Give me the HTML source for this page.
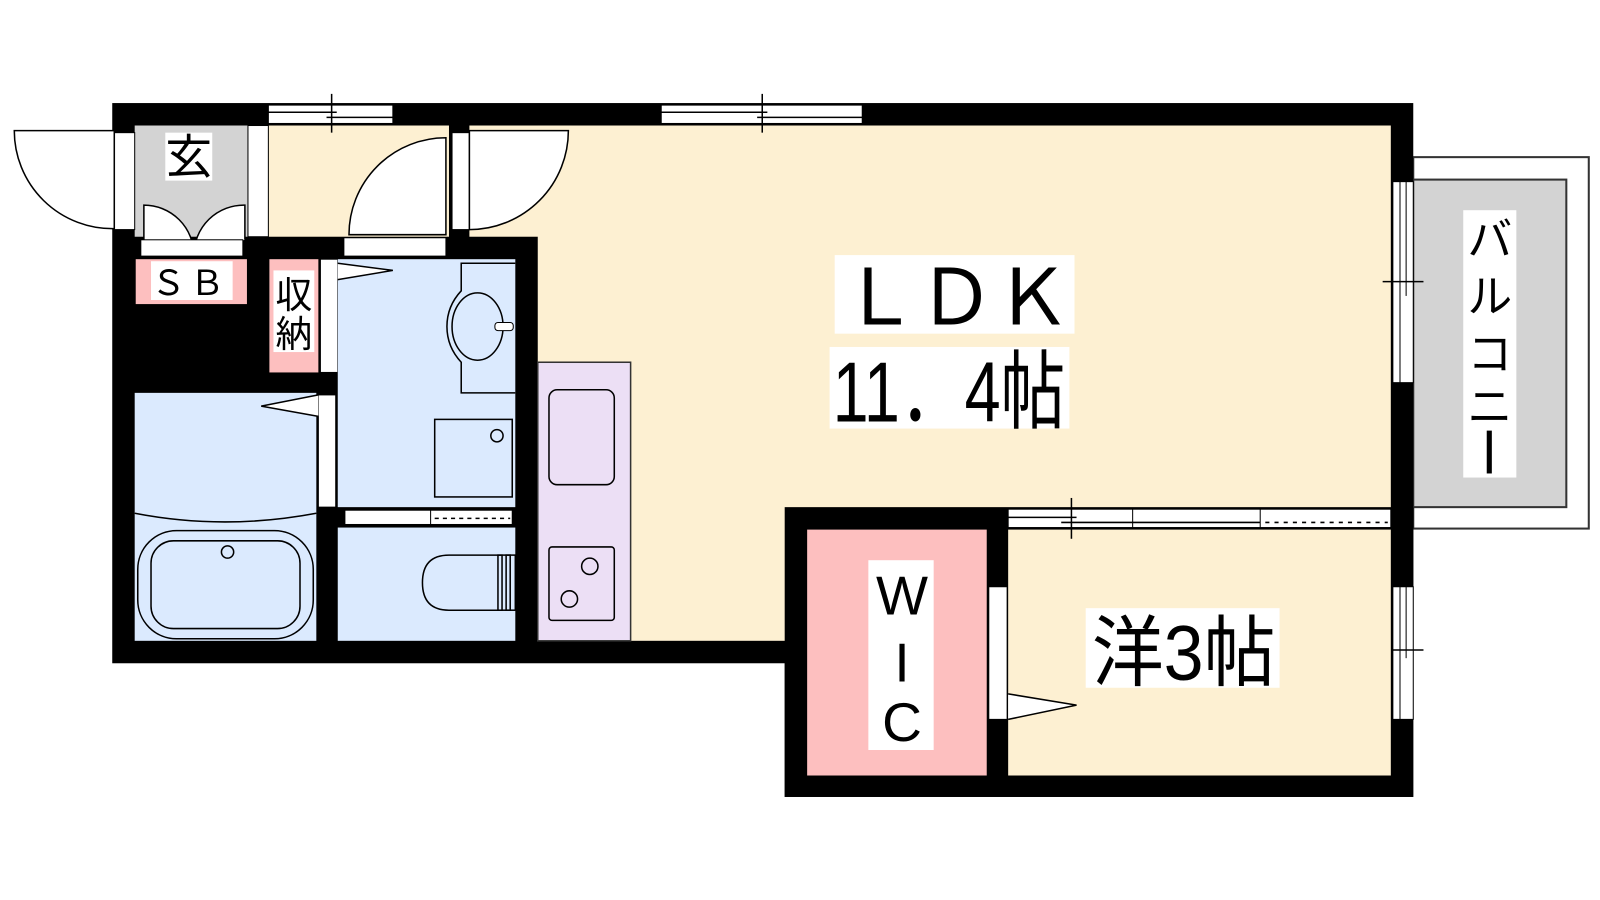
<!DOCTYPE html>
<html><head><meta charset="utf-8"><style>
html,body{margin:0;padding:0;background:#fff;width:1600px;height:900px;overflow:hidden}
svg{display:block}
text{font-family:"Liberation Sans","Noto Sans CJK JP",sans-serif;fill:#000}
</style></head><body>
<svg width="1600" height="900" viewBox="0 0 1568 882" xmlns="http://www.w3.org/2000/svg">
<!-- balcony -->
<rect x="1385" y="154" width="172" height="364" fill="#fff" stroke="#333" stroke-width="2"/>
<rect x="1385" y="176" width="150" height="321" fill="#d3d3d3" stroke="#333" stroke-width="2"/>
<rect x="1434" y="206" width="52" height="262" fill="#fff"/>
<text x="1460" y="250" font-size="44" text-anchor="middle">バ</text>
<text x="1460" y="306" font-size="44" text-anchor="middle">ル</text>
<text x="1460" y="362" font-size="44" text-anchor="middle">コ</text>
<text x="1460" y="414" font-size="44" text-anchor="middle">ニ</text>
<rect x="1457" y="422" width="5" height="42" fill="#000"/>

<!-- main black shell -->
<rect x="110" y="101" width="1275" height="549" fill="#000"/>
<rect x="769" y="497" width="616" height="284" fill="#000"/>

<!-- LDK beige -->
<rect x="527" y="123" width="836" height="505" fill="#fdf0d2"/>
<rect x="263" y="123" width="177" height="109" fill="#fdf0d2"/>
<rect x="460" y="123" width="100" height="109" fill="#fdf0d2"/>
<rect x="769" y="497" width="616" height="284" fill="#000"/>
<!-- kitchen -->
<rect x="527" y="355" width="91" height="273" fill="#ecdff5" stroke="#333" stroke-width="1.5"/>
<rect x="538" y="382" width="64" height="93" rx="8" fill="#ecdff5" stroke="#000" stroke-width="1.5"/>
<rect x="538" y="536" width="64" height="72" rx="3" fill="#ecdff5" stroke="#000" stroke-width="1.5"/>
<circle cx="578" cy="555" r="8" fill="none" stroke="#000" stroke-width="1.5"/>
<circle cx="558" cy="587" r="8" fill="none" stroke="#000" stroke-width="1.5"/>

<!-- entrance -->
<rect x="132" y="123" width="111" height="109" fill="#d3d3d3"/>
<rect x="162" y="130" width="46" height="47" fill="#fff"/>
<text x="185" y="170" font-size="46" text-anchor="middle">玄</text>
<path d="M141 235 L141 201 A49 49 0 0 1 190 250" fill="#fff" stroke="#000" stroke-width="1.5"/>
<path d="M240 235 L240 201 A49 49 0 0 0 190 250" fill="#fff" stroke="#000" stroke-width="1.5"/>
<rect x="138" y="235" width="100" height="16" fill="#fff" stroke="#000" stroke-width="1"/>
<rect x="243" y="123" width="20" height="109" fill="#fff" stroke="#000" stroke-width="1"/>
<!-- left door -->
<rect x="112" y="130" width="20" height="95" fill="#fff" stroke="#000" stroke-width="1"/>
<path d="M14 128 L112 128 L112 224 A96 96 0 0 1 14 128 Z" fill="#fff" stroke="#000" stroke-width="1.5"/>
<!-- right top door -->
<rect x="443" y="130" width="17" height="95" fill="#fff" stroke="#000" stroke-width="1"/>
<path d="M460 128 L557 128 A97 97 0 0 1 460 225 Z" fill="#fff" stroke="#000" stroke-width="1.5"/>
<!-- hall inner door -->
<rect x="337" y="233" width="100" height="18" fill="#fff" stroke="#000" stroke-width="1"/>
<path d="M437 230 L437 135 A95 95 0 0 0 342 230 Z" fill="#fff" stroke="#000" stroke-width="1.5"/>

<!-- SB -->
<rect x="133" y="254" width="109" height="44" fill="#fdbfbf"/>
<rect x="148" y="256" width="80" height="38" fill="#fff"/>
<text x="148" y="289" font-size="34" textLength="72" lengthAdjust="spacing">ＳＢ</text>
<!-- 収納 -->
<rect x="264" y="254" width="48" height="111" fill="#fdbfbf"/>
<rect x="268" y="265" width="40" height="80" fill="#fff"/>
<text x="288" y="302" font-size="36" text-anchor="middle">収</text>
<text x="288" y="340" font-size="36" text-anchor="middle">納</text>
<rect x="314" y="254" width="17" height="111" fill="#fff" stroke="#000" stroke-width="1"/>

<!-- washroom -->
<rect x="331" y="254" width="174" height="243" fill="#dbeafe"/>
<path d="M331 258 L385 265 L331 274" fill="#fff" stroke="#000" stroke-width="1.5"/>
<path d="M505 258 L452 258 L452 285 Q438 300 438 320 Q438 340 452 355 L452 385 L505 385" fill="none" stroke="#000" stroke-width="1.5"/>
<ellipse cx="468" cy="320" rx="25" ry="33" fill="none" stroke="#000" stroke-width="1.5"/>
<rect x="485" y="316" width="18" height="8" rx="3" fill="#fff" stroke="#000" stroke-width="1"/>
<rect x="426" y="411" width="76" height="76" fill="none" stroke="#000" stroke-width="1.5"/>
<circle cx="487" cy="427" r="6" fill="none" stroke="#000" stroke-width="1.5"/>
<!-- bath -->
<rect x="132" y="385" width="178" height="243" fill="#dbeafe"/>
<rect x="312" y="387" width="17" height="110" fill="#fff" stroke="#000" stroke-width="1"/>
<path d="M312 387 L256 398 L312 408" fill="#fff" stroke="#000" stroke-width="1.5"/>
<path d="M132 503 Q220 520 310 503" fill="none" stroke="#000" stroke-width="1.5"/>
<rect x="135" y="520" width="172" height="106" rx="38" fill="none" stroke="#000" stroke-width="1.5"/>
<rect x="148" y="530" width="146" height="86" rx="22" fill="none" stroke="#000" stroke-width="1.5"/>
<circle cx="223" cy="541" r="6" fill="none" stroke="#000" stroke-width="1.5"/>
<!-- toilet -->
<rect x="331" y="517" width="174" height="111" fill="#dbeafe"/>
<rect x="338" y="500" width="164" height="14" fill="#fff" stroke="#000" stroke-width="1"/>
<line x1="422" y1="500" x2="422" y2="514" stroke="#000"/>
<line x1="426" y1="508" x2="500" y2="508" stroke="#000" stroke-width="1.5" stroke-dasharray="4 4"/>
<path d="M492 544 L440 544 Q414 544 414 571 Q414 598 440 598 L492 598 Z" fill="none" stroke="#000" stroke-width="1.5"/>
<rect x="488" y="544" width="12" height="54" fill="none" stroke="#000" stroke-width="1.5"/>
<rect x="496" y="544" width="9" height="54" fill="none" stroke="#000" stroke-width="1.5"/>

<!-- top windows -->
<rect x="263" y="103" width="122" height="18" fill="#fff" stroke="#000" stroke-width="1"/>
<line x1="263" y1="110" x2="330" y2="110" stroke="#000" stroke-width="1.5"/>
<line x1="320" y1="115" x2="385" y2="115" stroke="#000" stroke-width="1.5"/>
<line x1="325" y1="92" x2="325" y2="130" stroke="#000" stroke-width="1.5"/>
<rect x="648" y="103" width="197" height="18" fill="#fff" stroke="#000" stroke-width="1"/>
<line x1="648" y1="110" x2="752" y2="110" stroke="#000" stroke-width="1.5"/>
<line x1="742" y1="115" x2="845" y2="115" stroke="#000" stroke-width="1.5"/>
<line x1="747" y1="92" x2="747" y2="130" stroke="#000" stroke-width="1.5"/>
<!-- right wall windows -->
<rect x="1365" y="178" width="20" height="197" fill="#fff" stroke="#000" stroke-width="1"/>
<line x1="1372" y1="178" x2="1372" y2="375" stroke="#000"/>
<line x1="1378" y1="178" x2="1378" y2="290" stroke="#000"/>
<line x1="1355" y1="276" x2="1395" y2="276" stroke="#000" stroke-width="1.5"/>
<rect x="1365" y="575" width="20" height="130" fill="#fff" stroke="#000" stroke-width="1"/>
<line x1="1372" y1="575" x2="1372" y2="705" stroke="#000"/>
<line x1="1378" y1="575" x2="1378" y2="645" stroke="#000"/>
<line x1="1355" y1="637" x2="1395" y2="637" stroke="#000" stroke-width="1.5"/>

<!-- WIC / 洋 -->
<rect x="791" y="519" width="176" height="241" fill="#fdbfbf"/>
<rect x="851" y="549" width="64" height="186" fill="#fff"/>
<text x="884" y="602" font-size="54" text-anchor="middle">W</text>
<text x="884" y="668" font-size="54" text-anchor="middle">I</text>
<text x="884" y="726" font-size="54" text-anchor="middle">C</text>
<rect x="988" y="519" width="375" height="241" fill="#fdf0d2"/>
<rect x="969" y="575" width="18" height="130" fill="#fff" stroke="#000" stroke-width="1"/>
<path d="M988 680 L1055 691 L988 705" fill="#fff" stroke="#000" stroke-width="1.5"/>
<rect x="988" y="499" width="375" height="18" fill="#fff" stroke="#000" stroke-width="1"/>
<line x1="988" y1="507" x2="1055" y2="507" stroke="#000" stroke-width="1.5"/>
<line x1="1040" y1="512" x2="1235" y2="512" stroke="#000" stroke-width="1.5"/>
<line x1="1110" y1="499" x2="1110" y2="517" stroke="#000"/>
<line x1="1235" y1="499" x2="1235" y2="517" stroke="#000"/>
<line x1="1240" y1="512" x2="1360" y2="512" stroke="#000" stroke-width="1.5" stroke-dasharray="4 5"/>
<line x1="1050" y1="488" x2="1050" y2="528" stroke="#000" stroke-width="1.5"/>
<rect x="1064" y="596" width="190" height="78" fill="#fff"/>
<text x="1070" y="666" font-size="76" textLength="180" lengthAdjust="spacingAndGlyphs">洋3帖</text>

<!-- LDK labels -->
<rect x="818" y="250" width="235" height="77" fill="#fff"/>
<text x="824" y="318" font-size="76" textLength="226" lengthAdjust="spacing">ＬＤＫ</text>
<rect x="813" y="340" width="235" height="80" fill="#fff"/>
<text x="816" y="413" font-size="84" textLength="228" lengthAdjust="spacingAndGlyphs">11．4帖</text>
</svg>
</body></html>
